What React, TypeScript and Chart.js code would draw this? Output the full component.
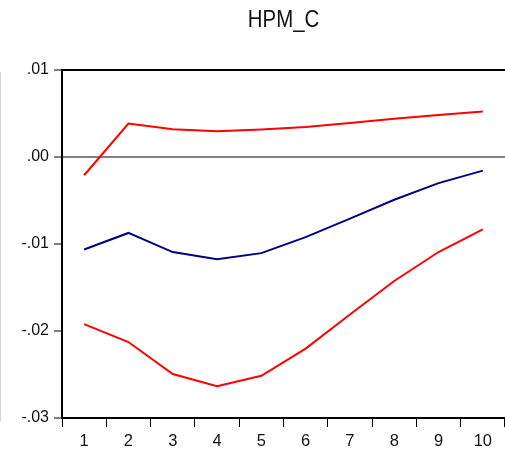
import React, { useEffect, useRef } from "react";
import { Chart, registerables } from "chart.js";

Chart.register(...registerables);

const periods = ["1", "2", "3", "4", "5", "6", "7", "8", "9", "10"];
const upperBand = [-0.0021, 0.00384, 0.00318, 0.00295, 0.00315, 0.00345, 0.00391, 0.00441, 0.00483, 0.00522];
const response = [-0.01063, -0.00873, -0.01093, -0.01174, -0.01105, -0.00921, -0.00709, -0.00491, -0.003, -0.00157];
const lowerBand = [-0.01921, -0.02127, -0.02495, -0.02636, -0.02515, -0.02202, -0.01811, -0.01425, -0.01092, -0.00832];
const yMin = -0.03;
const yMax = 0.01;
const yStep = 0.01;
const title = "HPM_C";

const FONT = "'Liberation Sans', Arial, sans-serif";

const frame = {
  id: "frame",
  afterDraw(chart: any) {
    const { ctx, chartArea } = chart;
    ctx.save();
    ctx.strokeStyle = "#000";
    ctx.lineWidth = 2;
    ctx.beginPath();
    ctx.moveTo(chartArea.left, chartArea.top);
    ctx.lineTo(chartArea.right, chartArea.top);
    ctx.stroke();
    // title, centred over the plot area, slightly condensed
    const cx = (chartArea.left + chartArea.right) / 2;
    ctx.translate(cx, 27);
    ctx.scale(0.85, 1);
    ctx.fillStyle = "#111";
    ctx.font = `24px ${FONT}`;
    ctx.textAlign = "center";
    ctx.textBaseline = "alphabetic";
    ctx.fillText(title, 0, 0);
    ctx.restore();
  },
};

function fmt(v: number) {
  const s = (Math.round(v * 100) / 100).toFixed(2);
  return s.replace("0.", ".");
}

export default function App() {
  const ref = useRef<HTMLCanvasElement | null>(null);
  useEffect(() => {
    if (!ref.current) return;
    const chart = new Chart(ref.current, {
      type: "line",
      data: {
        labels: periods,
        datasets: [
          { data: upperBand, borderColor: "#ff0000", borderWidth: 2, pointRadius: 0, tension: 0 },
          { data: response, borderColor: "#000080", borderWidth: 2, pointRadius: 0, tension: 0 },
          { data: lowerBand, borderColor: "#ff0000", borderWidth: 2, pointRadius: 0, tension: 0 },
        ],
      },
      options: {
        animation: false,
        responsive: true,
        maintainAspectRatio: false,
        layout: { padding: { left: 0, right: 0, top: 70, bottom: 0 } },
        plugins: {
          legend: { display: false },
          tooltip: { enabled: false },
          title: { display: false },
        },
        scales: {
          x: {
            offset: true,
            grid: {
              offset: true,
              drawOnChartArea: false,
              drawTicks: true,
              tickLength: 9,
              color: "#000",
              tickWidth: 1,
            },
            border: { color: "#000", width: 2 },
            ticks: {
              color: "#111",
              padding: 5,
              maxRotation: 0,
              font: { family: FONT, size: 16.5 },
            },
            afterFit(scale: any) {
              scale.height = 37;
            },
          },
          y: {
            min: yMin,
            max: yMax,
            grid: {
              drawTicks: true,
              tickLength: 8,
              tickColor: "#000",
              tickWidth: 1,
              color: (ctx: any) => (ctx.tick && Math.abs(ctx.tick.value) < 1e-9 ? "#808080" : "rgba(0,0,0,0)"),
              lineWidth: 2,
            },
            border: { color: "#000", width: 2 },
            ticks: {
              stepSize: yStep,
              color: "#111",
              padding: 5,
              font: { family: FONT, size: 16 },
              callback: (v: any) => fmt(Number(v)),
            },
            afterFit(scale: any) {
              scale.width = 62;
            },
          },
        },
      },
      plugins: [frame],
    });
    return () => chart.destroy();
  }, []);
  return (
    <div style={{ position: "absolute", left: 0, top: 0, width: 505, height: 455, background: "#fff" }}>
      <div style={{ position: "absolute", left: 0, top: 72, width: 1, height: 349, background: "#d0d0d0" }} />
      <canvas ref={ref} />
    </div>
  );
}
